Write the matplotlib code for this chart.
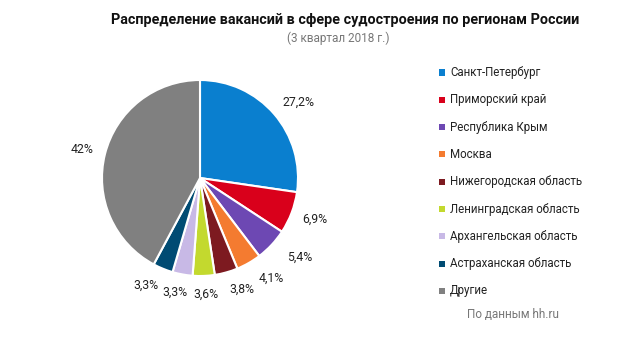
import matplotlib
matplotlib.use("Agg")
import numpy as np
import matplotlib.pyplot as plt
from matplotlib.patches import Rectangle

plt.rcParams['font.family'] = ['Roboto', 'DejaVu Sans']

regions = ["Санкт-Петербург", "Приморский край", "Республика Крым", "Москва",
           "Нижегородская область", "Ленинградская область", "Архангельская область",
           "Астраханская область", "Другие"]
values = [27.2, 6.9, 5.4, 4.1, 3.8, 3.6, 3.3, 3.3, 42]
labels = ["27,2%", "6,9%", "5,4%", "4,1%", "3,8%", "3,6%", "3,3%", "3,3%", "42%"]
colors = ["#0a7fcf", "#d9001b", "#6d48b3", "#f47b30", "#7d1a20", "#c3d92e",
          "#c8b9e6", "#004b73", "#808080"]

title = "Распределение вакансий в сфере судостроения по регионам России"
subtitle = "(3 квартал 2018 г.)"
source = "По данным hh.ru"

W, H = 627, 340
fig = plt.figure(figsize=(W / 100, H / 100), dpi=100)

cx, cy, R = 200, 178, 98
ax = fig.add_axes([(cx - R) / W, 1 - (cy + R) / H, 2 * R / W, 2 * R / H])
wedges, _ = ax.pie(values, colors=colors, startangle=90, counterclock=False,
                   wedgeprops=dict(edgecolor="white", linewidth=1.5))
ax.set_xlim(-1, 1)
ax.set_ylim(-1, 1)
ax.set_aspect("equal")

renderer = fig.canvas.get_renderer()
gap = 11.5 / R
items = []
for w, lab in zip(wedges, labels):
    ang = np.deg2rad((w.theta1 + w.theta2) / 2)
    c, s = np.cos(ang), np.sin(ang)
    r0 = 1 + gap
    t = ax.annotate(lab, xy=(r0 * c, r0 * s), xytext=(0, 0),
                    textcoords="offset pixels", ha="center", va="center",
                    fontsize=8.8, color="#222222", annotation_clip=False)
    bb = t.get_window_extent(renderer)
    ox = bb.width / 2 * np.clip(c * 4, -1, 1)
    oy = bb.height / 2 * s
    t.set_position((ox, oy))
    items.append([t, c, s, ox, oy, bb.width])

# resolve overlaps among bottom labels (push right)
bottom = [it for it in items if it[2] < -0.5]
bottom.sort(key=lambda it: it[0].get_window_extent(renderer).x0)
prev_x1 = None
for it in bottom:
    bb = it[0].get_window_extent(renderer)
    if prev_x1 is not None and bb.x0 < prev_x1 + 4:
        it[3] += prev_x1 + 4 - bb.x0
        it[0].set_position((it[3], it[4]))
        bb = it[0].get_window_extent(renderer)
    prev_x1 = bb.x1

fig.text(345 / W, 1 - 20 / H, title, ha="center", va="center",
         fontsize=10.4, fontweight="bold", color="#111111")
fig.text(338 / W, 1 - 38 / H, subtitle, ha="center", va="center",
         fontsize=8.5, color="#777777")

y0, dy = 72.5, 27.3
for i, (name, col) in enumerate(zip(regions, colors)):
    y = y0 + i * dy
    fig.patches.append(Rectangle((439 / W, 1 - (y + 3) / H), 6 / W, 6 / H,
                                 transform=fig.transFigure, facecolor=col,
                                 edgecolor="none"))
    fig.text(450 / W, 1 - y / H, name, ha="left", va="center",
             fontsize=8.3, color="#222222")

fig.text(467 / W, 1 - 315 / H, source, ha="left", va="center",
         fontsize=8.5, color="#777777")

fig.savefig("out.png", dpi=100, facecolor="white")
